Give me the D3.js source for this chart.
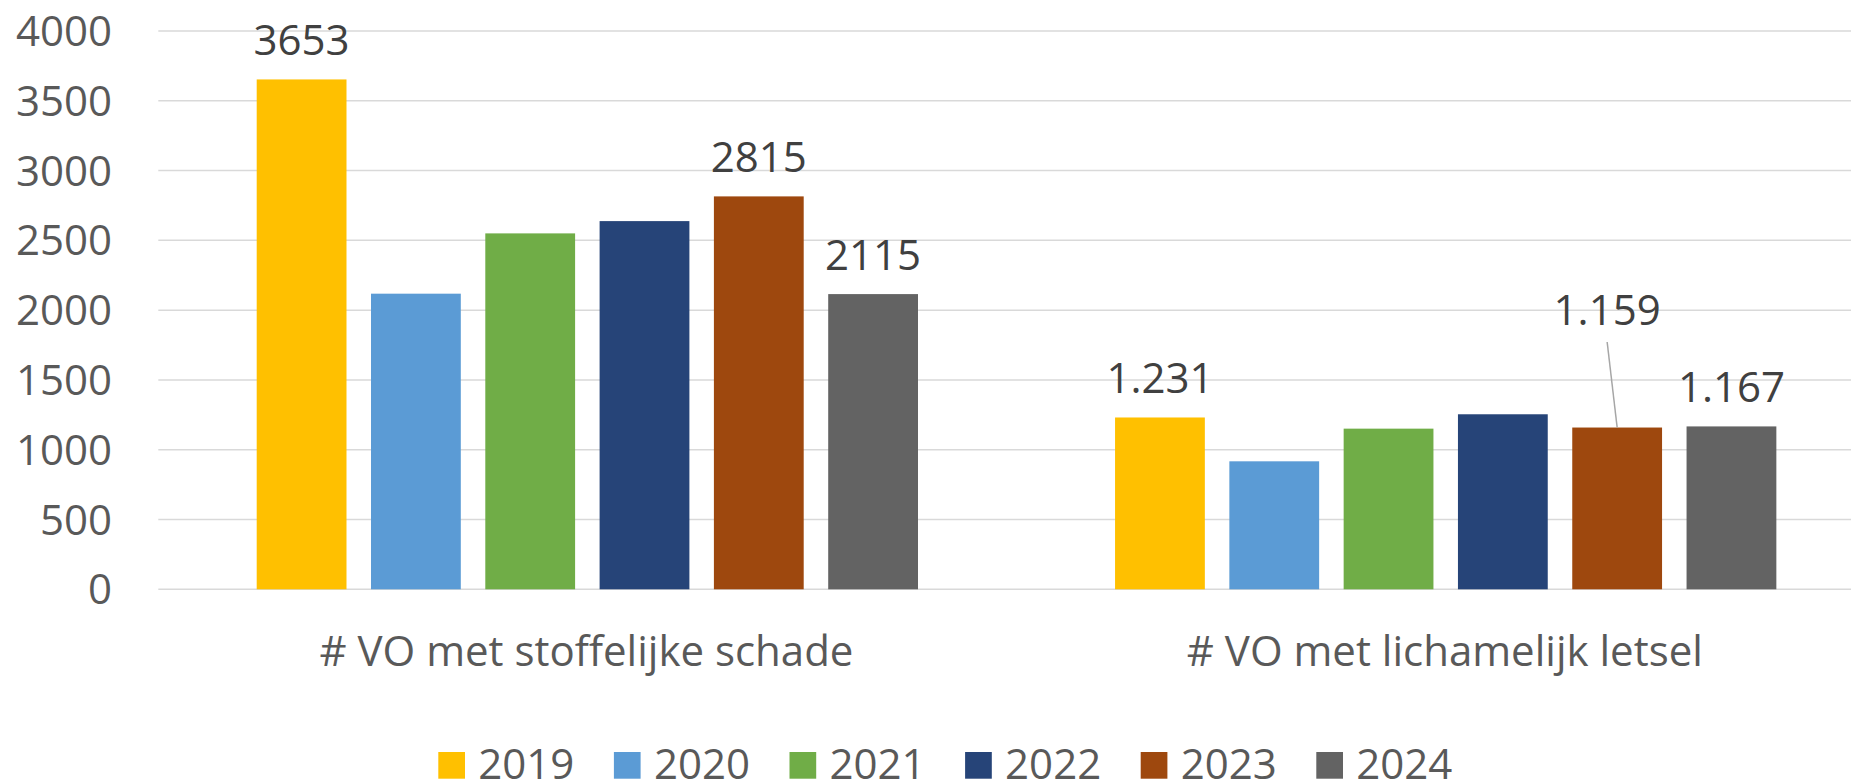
<!DOCTYPE html>
<html>
<head>
<meta charset="utf-8">
<script src="https://cdn.jsdelivr.net/npm/d3@7.9.0/dist/d3.min.js"></script>
<style>
  html, body { margin: 0; padding: 0; background: #fff; }
  svg { display: block; font-family: "Open Sans", "Noto Sans", sans-serif; }
</style>
</head>
<body>
<svg id="chart" width="1851" height="783"></svg>
<script>
// categories and series
const categories = ["# VO met stoffelijke schade", "# VO met lichamelijk letsel"];
const years = ["2019", "2020", "2021", "2022", "2023", "2024"];
const colors = ["#FFC000", "#5B9BD5", "#70AD47", "#264478", "#9E480E", "#636363"];

// values per year, one entry per category
const values2019 = [3653, 1231];
const values2020 = [2118, 917];
const values2021 = [2550, 1151];
const values2022 = [2638, 1254];
const values2023 = [2815, 1159];
const values2024 = [2115, 1167];

// data labels shown in the chart (null = no label)
const labelsStoffelijk = ["3653", null, null, null, "2815", "2115"];
const labelsLetsel = ["1.231", null, null, null, "1.159", "1.167"];

const yTicks = [0, 500, 1000, 1500, 2000, 2500, 3000, 3500, 4000];

const series = [values2019, values2020, values2021, values2022, values2023, values2024];
const labelSets = [labelsStoffelijk, labelsLetsel];

const svg = d3.select("#chart");

const plotLeft = 158.3, plotRight = 1875;
const x0 = d3.scaleBand().domain(categories).range([plotLeft, plotRight]).padding(0);
const x1 = d3.scaleBand().domain(years).range([98.4, 759.7]).paddingInner(0.2144).paddingOuter(0);
const y = d3.scaleLinear().domain([0, 4000]).range([589.3, 31]);

// gridlines
svg.append("g").selectAll("line")
  .data(yTicks)
  .join("line")
  .attr("x1", plotLeft)
  .attr("x2", 1851)
  .attr("y1", d => y(d))
  .attr("y2", d => y(d))
  .attr("stroke", "#d9d9d9")
  .attr("stroke-width", 1.5);

// y axis labels
svg.append("g").selectAll("text")
  .data(yTicks)
  .join("text")
  .attr("x", 112)
  .attr("y", d => y(d) + 15)
  .attr("text-anchor", "end")
  .attr("fill", "#595959")
  .attr("font-size", 42)
  .text(d => d);

// bars
const groups = svg.append("g").selectAll("g")
  .data(categories)
  .join("g")
  .attr("transform", d => `translate(${x0(d)},0)`);

groups.selectAll("rect")
  .data((c, ci) => years.map((yr, i) => ({ year: yr, value: series[i][ci], color: colors[i] })))
  .join("rect")
  .attr("x", d => x1(d.year))
  .attr("width", x1.bandwidth())
  .attr("y", d => y(d.value))
  .attr("height", d => y(0) - y(d.value))
  .attr("fill", d => d.color);

// data labels
const labelData = [];
categories.forEach((c, ci) => {
  years.forEach((yr, i) => {
    const txt = labelSets[ci][i];
    if (txt) labelData.push({ cat: c, year: yr, value: series[i][ci], text: txt });
  });
});

// the 1.159 label sits higher with a leader line
const moved = { cat: categories[1], year: "2023", dx: -10, dy: -78 };

labelData.forEach(d => {
  const cx = x0(d.cat) + x1(d.year) + x1.bandwidth() / 2;
  const top = y(d.value);
  let lx = cx, ly = top - 24.5;
  if (d.cat === moved.cat && d.year === moved.year) {
    lx = cx + moved.dx;
    ly = ly + moved.dy;
    svg.append("line")
      .attr("x1", lx)
      .attr("y1", ly + 17)
      .attr("x2", cx)
      .attr("y2", top)
      .attr("stroke", "#a6a6a6")
      .attr("stroke-width", 1.5);
  }
  svg.append("text")
    .attr("x", lx)
    .attr("y", ly)
    .attr("text-anchor", "middle")
    .attr("fill", "#404040")
    .attr("font-size", 42)
    .text(d.text);
});

// category labels
svg.append("g").selectAll("text")
  .data(categories)
  .join("text")
  .attr("x", d => x0(d) + x0.bandwidth() / 2 - 1)
  .attr("y", 665.7)
  .attr("text-anchor", "middle")
  .attr("fill", "#595959")
  .attr("font-size", 42)
  .text(d => d);

// legend
const legend = svg.append("g").selectAll("g")
  .data(years)
  .join("g")
  .attr("transform", (d, i) => `translate(${438.3 + i * 175.6},752)`);

legend.append("rect")
  .attr("width", 26.7)
  .attr("height", 26.7)
  .attr("fill", (d, i) => colors[i]);

legend.append("text")
  .attr("x", 40)
  .attr("y", 26.7)
  .attr("fill", "#595959")
  .attr("font-size", 42)
  .text(d => d);
</script>
</body>
</html>
